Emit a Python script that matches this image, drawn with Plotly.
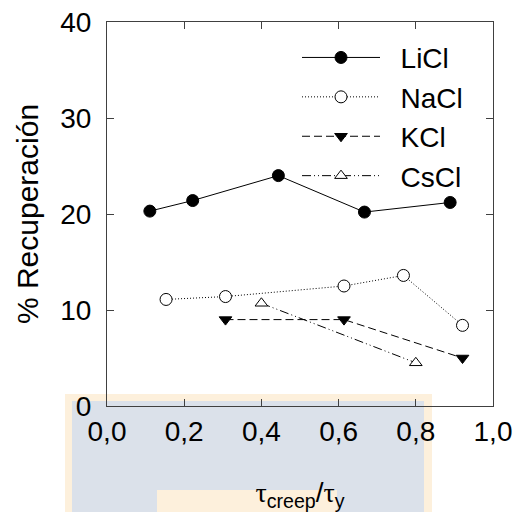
import plotly.graph_objects as go

# Data
licl_x = [0.111, 0.222, 0.444, 0.667, 0.889]
licl_y = [20.3, 21.4, 24.0, 20.2, 21.2]
nacl_x = [0.153, 0.307, 0.614, 0.768, 0.921]
nacl_y = [11.1, 11.4, 12.5, 13.6, 8.4]
kcl_x = [0.307, 0.614, 0.921]
kcl_y = [9.0, 9.0, 5.0]
cscl_x = [0.40, 0.80]
cscl_y = [10.7, 4.5]

series_names = ["LiCl", "NaCl", "KCl", "CsCl"]
x_ticks = [0.0, 0.2, 0.4, 0.6, 0.8, 1.0]
x_ticklabels = ["0,0", "0,2", "0,4", "0,6", "0,8", "1,0"]
y_ticks = [0, 10, 20, 30, 40]

FONT = "Liberation Sans, Arial, sans-serif"
NB = "\u00a0\u00a0"
fig = go.Figure()

fig.add_trace(go.Scatter(x=licl_x, y=licl_y, name=NB + series_names[0], mode="lines+markers",
                         line=dict(color="black", width=1, dash="solid"),
                         marker=dict(symbol="circle", size=12, color="black", line=dict(color="black", width=1))))
fig.add_trace(go.Scatter(x=nacl_x, y=nacl_y, name=NB + series_names[1], mode="lines+markers",
                         line=dict(color="black", width=1, dash="1px,2px"),
                         marker=dict(symbol="circle", size=12, color="white", line=dict(color="black", width=1))))
fig.add_trace(go.Scatter(x=kcl_x, y=kcl_y, name=NB + series_names[2], mode="lines+markers",
                         line=dict(color="black", width=1, dash="8px,4px"),
                         marker=dict(symbol="triangle-down", size=11, color="black", line=dict(color="black", width=1))))
fig.add_trace(go.Scatter(x=cscl_x, y=cscl_y, name=NB + series_names[3], mode="lines+markers",
                         line=dict(color="black", width=1, dash="9px,3px,1px,3px,1px,3px"),
                         marker=dict(symbol="triangle-up", size=11, color="white", line=dict(color="black", width=1))))

L, R, T, B = 107, 493, 22, 406
W, H = R - L, B - T

def dx(px):
    return (px - L) / W

def dy(py):
    return (B - py) / H

# watermark-like background (below everything)
shapes = [
    dict(type="rect", xref="x domain", yref="y domain", x0=dx(65), x1=dx(432),
         y0=dy(515), y1=dy(394), fillcolor="#fdf0dc", line_width=0, layer="below"),
    dict(type="rect", xref="x domain", yref="y domain", x0=dx(72), x1=dx(424),
         y0=dy(515), y1=dy(401), fillcolor="#dbe1ea", line_width=0, layer="below"),
    dict(type="rect", xref="x domain", yref="y domain", x0=dx(157), x1=dx(337),
         y0=dy(515), y1=dy(490), fillcolor="#fdf0dc", line_width=0, layer="below"),
]

fig.update_layout(
    width=516, height=512,
    margin=dict(l=L, r=516 - R, t=T, b=512 - B),
    paper_bgcolor="white", plot_bgcolor="rgba(0,0,0,0)",
    font=dict(family=FONT, size=28, color="black"),
    showlegend=True,
    legend=dict(x=dx(297), y=0.972, xanchor="left", yanchor="top", bgcolor="rgba(0,0,0,0)",
                font=dict(size=28), itemwidth=78),
    shapes=shapes,
)
fig.update_xaxes(range=[0, 1], tickvals=x_ticks, ticktext=x_ticklabels, ticks="inside", ticklen=7,
                 tickcolor="#404040", showline=True, linecolor="#404040", linewidth=1, mirror="ticks",
                 showgrid=False, zeroline=False, ticklabelstandoff=0, automargin=False,
                 tickfont=dict(size=28),
                 title=dict(text="<span style='font-family:Liberation Serif'>τ</span><sub>creep</sub>/<span style='font-family:Liberation Serif'>τ</span><sub>y</sub>",
                            standoff=40, font=dict(size=28)))
fig.update_yaxes(range=[0, 40], tickvals=y_ticks, ticks="inside", ticklen=7,
                 tickcolor="#404040", showline=True, linecolor="#404040", linewidth=1, mirror="ticks",
                 showgrid=False, zeroline=False, ticklabelstandoff=9, automargin=False,
                 tickfont=dict(size=28),
                 title=dict(text="% Recuperación", standoff=12, font=dict(size=30)))

fig.write_html("out.html", config={"displayModeBar": False},
               post_script="document.body.style.margin='0';document.body.style.overflow='hidden';")
